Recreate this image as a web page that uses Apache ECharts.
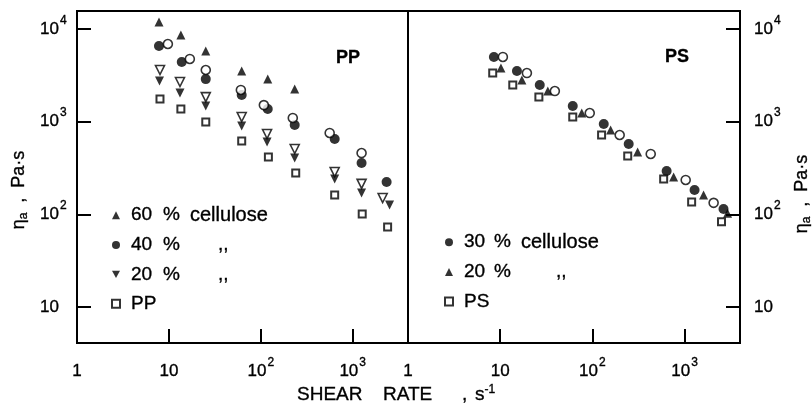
<!DOCTYPE html>
<html>
<head>
<meta charset="utf-8">
<script src="https://cdn.jsdelivr.net/npm/echarts@6/dist/echarts.min.js"></script>
<style>
  html, body { margin: 0; padding: 0; background: #fff; }
  #chart { width: 812px; height: 406px; }
</style>
</head>
<body>
<div id="chart"></div>
<script>
// Apparent viscosity (Pa·s) versus shear rate (1/s) for cellulose-filled PP and PS

// ---- PP panel ----
const ppRate60 = [7.8, 13.5, 25.2, 62, 119, 234];
const ppVisc60 = [11900, 8610, 5800, 3520, 2880, 2250];

const ppRate40 = [7.8, 13.8, 25.2, 62, 119, 234, 637, 1250, 2340];
const ppVisc40 = [6560, 4410, 2880, 1940, 1370, 920, 650, 358, 223];

const ppRateOpenCircle = [9.75, 16.9, 25.2, 60.7, 108, 223, 562, 1250];
const ppViscOpenCircle = [6890, 4750, 3610, 2200, 1510, 1097, 755, 459];

const ppRate20 = [7.9, 13.2, 25.2, 62, 117, 234, 637, 1250, 2520];
const ppVisc20 = [2750, 2040, 1475, 897, 604, 406, 241, 170, 126];

const ppRateOpenTri = [8.0, 13.2, 25.2, 62, 117, 234, 637, 1250, 2120];
const ppViscOpenTri = [3610, 2680, 1840, 1122, 736, 507, 286, 213, 150];

const ppRateNeat = [8.0, 13.5, 25.2, 62, 121, 240, 637, 1270, 2400];
const ppViscNeat = [1760, 1370, 990, 618, 416, 279, 162, 101, 73];

// ---- PS panel ----
const psRate30 = [8.55, 15.2, 26.9, 61.3, 133, 248, 640, 1285, 2650];
const psVisc30 = [4990, 3520, 2490, 1475, 944, 574, 294, 183, 114];

const psRate20 = [10.2, 17.2, 32.9, 76.8, 158, 310, 762, 1610, 2930];
const psVisc20 = [3800, 2820, 2140, 1240, 813, 471, 253, 162, 103];

const psRateOpenCircle = [10.7, 19.5, 39.2, 93.7, 198, 430, 1030, 2070];
const psViscOpenCircle = [4990, 3350, 2140, 1240, 718, 448, 235, 133];

const psRateNeat = [8.3, 13.7, 26.3, 61.3, 126, 242, 594, 1195, 2520];
const psViscNeat = [3350, 2490, 1845, 1122, 718, 426, 241, 136, 83];

// ---- tick values ----
const rateTicks = [10, 100, 1000];
const rateLabels = [1, 10, 100, 1000];
const viscTicks = [10, 100, 1000, 10000];

const INK = '#000';
const FONT = '"Liberation Sans", Arial, Helvetica, sans-serif';
// slight outline to give the lettering a heavier weight
const HEAVY = { textBorderColor: INK, textBorderWidth: 0.35 };     // ECharts label styles
const HEAVY_ZR = { stroke: INK, lineWidth: 0.35 };                 // graphic (zrender) text styles

function pairs(xs, ys) { return xs.map((x, i) => [x, ys[i]]); }

function powerLabel(v) {
  const e = Math.round(Math.log10(v));
  if (e === 0) return '{b|1}';
  if (e === 1) return '{b|10}';
  return '{b|10}{s|' + e + '}';
}

const tickRich = {
  b: Object.assign({ fontSize: 17, fontFamily: FONT, color: INK, padding: [6, 0, 6, 0] }, HEAVY),
  s: Object.assign({ fontSize: 12, fontFamily: FONT, color: INK, lineHeight: 12, verticalAlign: 'top', padding: [0, 0, 0, 1] }, HEAVY)
};

function xAxisFor(idx) {
  return {
    type: 'log', logBase: 10, gridIndex: idx, min: 1, max: 4000,
    axisLine: { show: true, lineStyle: { color: INK, width: 2 } },
    axisTick: { show: true, inside: true, length: 14, lineStyle: { color: INK, width: 2 }, customValues: rateTicks },
    axisLabel: { show: true, customValues: rateLabels, formatter: powerLabel, rich: tickRich, margin: 14, color: INK },
    splitLine: { show: false }, minorTick: { show: false }, minorSplitLine: { show: false }
  };
}

function yAxisFor(idx, side, margin) {
  return {
    type: 'log', logBase: 10, gridIndex: idx, min: 4.09, max: 15640, position: side,
    axisLine: { show: true, onZero: false, lineStyle: { color: INK, width: 2 } },
    axisTick: { show: true, inside: true, length: 14, lineStyle: { color: INK, width: 2 }, customValues: viscTicks },
    axisLabel: { show: true, customValues: viscTicks, formatter: powerLabel, rich: tickRich, margin: margin, align: 'left', color: INK },
    splitLine: { show: false }, minorTick: { show: false }, minorSplitLine: { show: false }
  };
}

const filled = { color: INK };
const hollow = { color: '#fff', borderColor: INK, borderWidth: 1.6 };
const hollowSq = { color: '#fff', borderColor: INK, borderWidth: 2 };

function sc(name, panel, xs, ys, symbol, size, style, rotate, z) {
  return {
    name: name, type: 'scatter', xAxisIndex: panel, yAxisIndex: panel,
    symbol: symbol, symbolSize: size, symbolRotate: rotate || 0,
    itemStyle: style, data: pairs(xs, ys), z: z || 2, silent: true
  };
}

const series = [
  sc('pp60', 0, ppRate60, ppVisc60, 'triangle', 9, filled),
  sc('pp40', 0, ppRate40, ppVisc40, 'circle', 10, filled),
  sc('ppOpenCircle', 0, ppRateOpenCircle, ppViscOpenCircle, 'circle', 9, hollow, 0, 3),
  sc('pp20', 0, ppRate20, ppVisc20, 'triangle', 9, filled, 180),
  sc('ppOpenTri', 0, ppRateOpenTri, ppViscOpenTri, 'triangle', 9, hollow, 180, 3),
  sc('ppNeat', 0, ppRateNeat, ppViscNeat, 'rect', 7, hollowSq),
  sc('ps30', 1, psRate30, psVisc30, 'circle', 10, filled),
  sc('ps20', 1, psRate20, psVisc20, 'triangle', 9, filled),
  sc('psOpenCircle', 1, psRateOpenCircle, psViscOpenCircle, 'circle', 9, hollow, 0, 3),
  sc('psNeat', 1, psRateNeat, psViscNeat, 'rect', 7, hollowSq)
];

const legendText = {
  pp60: '{n|60}{p|%}{c|cellulose}',
  pp40: '{n|40}{p|%}{d|,,}',
  pp20: '{n|20}{p|%}{d|,,}',
  ppNeat: '{n|PP}',
  ps30: '{n|30}{p|%}{c|cellulose}',
  ps20: '{n|20}{p|%}{d|,,}',
  psNeat: '{n|PS}'
};

// downward-pointing triangle for the legend key of the 20 % PP series
const downTriangle = 'path://M0,0L10,0L5,9Z';

function legendRich(nW, pW, dPad) {
  const base = Object.assign({ fontSize: 19, fontFamily: FONT, color: INK, lineHeight: 18 }, HEAVY);
  return {
    n: Object.assign({}, base, { width: nW, padding: [0, 0, 0, 6] }),
    p: Object.assign({}, base, { width: pW }),
    c: Object.assign({}, base, { fontSize: 20 }),
    d: Object.assign({}, base, { padding: [0, 0, 0, dPad] })
  };
}

function legendFor(names, left, top, rich) {
  return {
    data: names, orient: 'vertical', left: left, top: top, padding: 0,
    itemWidth: 8, itemHeight: 8, itemGap: 10, selectedMode: false,
    formatter: (name) => legendText[name],
    textStyle: { color: INK, fontFamily: FONT, fontSize: 19, rich: rich }
  };
}

const titleRich = {
  e: Object.assign({ fontSize: 18, fontFamily: FONT, fill: INK, lineHeight: 22 }, HEAVY_ZR),
  sub: Object.assign({ fontSize: 12, fontFamily: FONT, fill: INK, lineHeight: 12, verticalAlign: 'bottom' }, HEAVY_ZR)
};
const yTitle = '{e|η}{sub|a}{e|  ,  Pa·s}';

const xRichBase = Object.assign({ fontSize: 19, fontFamily: FONT, fill: INK, lineHeight: 22 }, HEAVY_ZR);

const chart = echarts.init(document.getElementById('chart'), null, { renderer: 'canvas' });
chart.setOption({
  animation: false,
  backgroundColor: '#fff',
  grid: [
    { left: 77, top: 11, width: 331, height: 332, show: true, borderColor: INK, borderWidth: 2, backgroundColor: 'transparent', containLabel: false, outerBoundsMode: 'none' },
    { left: 408, top: 11, width: 332, height: 332, show: true, borderColor: INK, borderWidth: 2, backgroundColor: 'transparent', containLabel: false, outerBoundsMode: 'none' }
  ],
  xAxis: [xAxisFor(0), xAxisFor(1)],
  yAxis: [yAxisFor(0, 'left', 37), yAxisFor(1, 'right', 14)],
  legend: [
    legendFor(['pp60', 'pp40', { name: 'pp20', icon: downTriangle }, 'ppNeat'], 111, 205, legendRich(32, 27, 28)),
    legendFor(['ps30', 'ps20', 'psNeat'], 444, 232, legendRich(30, 27, 35))
  ],
  series: series,
  graphic: [
    { type: 'text', x: 348, y: 58, style: Object.assign({ text: 'PP', font: 'bold 18px ' + FONT, fill: INK, align: 'center', verticalAlign: 'middle' }, { stroke: INK, lineWidth: 0.3 }) },
    { type: 'text', x: 677, y: 57, style: Object.assign({ text: 'PS', font: 'bold 18px ' + FONT, fill: INK, align: 'center', verticalAlign: 'middle' }, { stroke: INK, lineWidth: 0.3 }) },
    { type: 'text', x: 19, y: 190, rotation: Math.PI / 2, style: { text: yTitle, rich: titleRich, align: 'center', verticalAlign: 'middle' } },
    { type: 'text', x: 802, y: 194, rotation: Math.PI / 2, style: { text: yTitle, rich: titleRich, align: 'center', verticalAlign: 'middle' } },
    { type: 'text', x: 297, y: 395, style: {
        text: '{w|SHEAR}{w2|RATE}{k|,}{t|s}{sup|-1}', align: 'left', verticalAlign: 'middle',
        rich: {
          w: Object.assign({}, xRichBase, { width: 86 }),
          w2: Object.assign({}, xRichBase, { width: 79 }),
          k: Object.assign({}, xRichBase, { width: 13 }),
          t: Object.assign({}, xRichBase),
          sup: Object.assign({}, xRichBase, { fontSize: 12, lineHeight: 12, verticalAlign: 'top' })
        }
      } }
  ]
});
</script>
</body>
</html>
